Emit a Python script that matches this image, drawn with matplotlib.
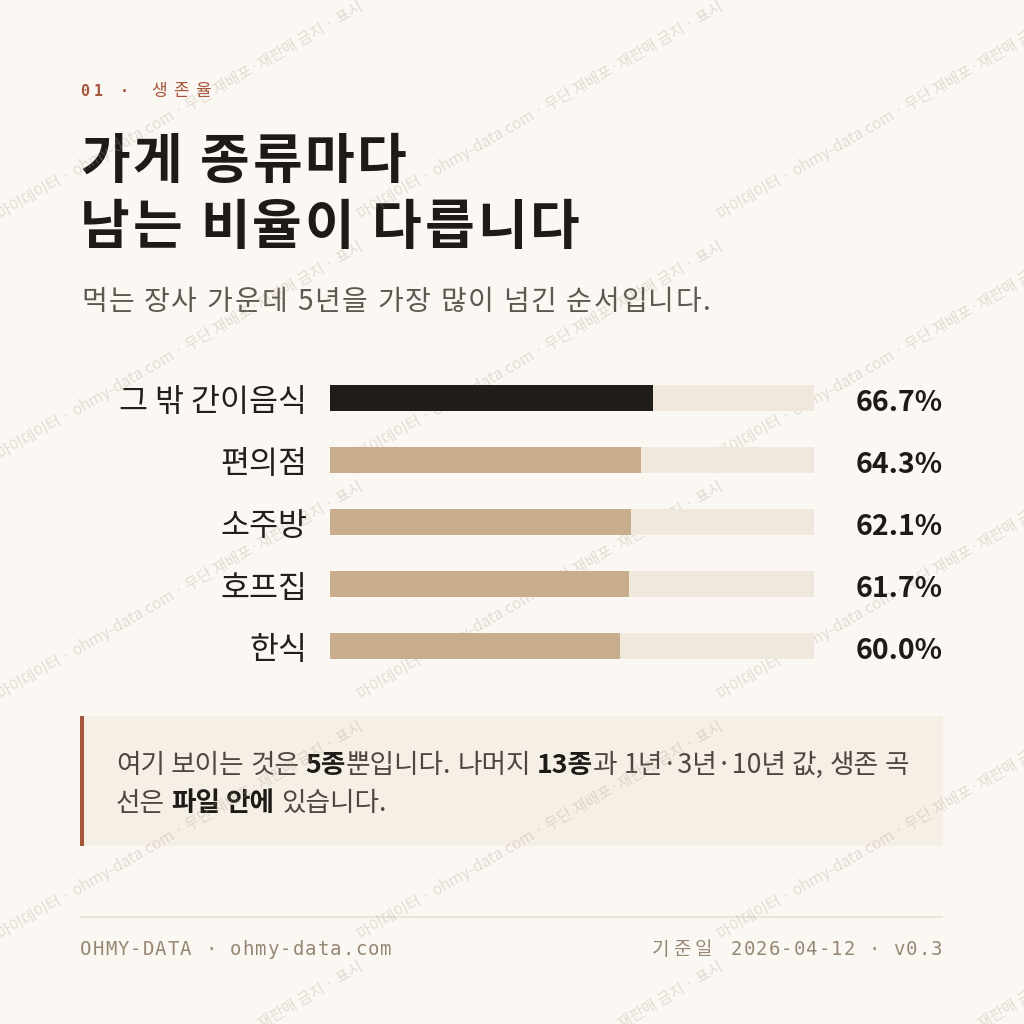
import re
import unicodedata
import matplotlib
matplotlib.use('Agg')
import matplotlib.pyplot as plt
from matplotlib.patches import Rectangle
from matplotlib.transforms import blended_transform_factory, ScaledTranslation

# ---------------- data ----------------
categories = ['그 밖 간이음식', '편의점', '소주방', '호프집', '한식']
survival_5y = [66.7, 64.3, 62.1, 61.7, 60.0]
highlight = [True, False, False, False, False]
value_labels = ['66.7%', '64.3%', '62.1%', '61.7%', '60.0%']

section_label = '01 · '
section_name = '생존율'
title_lines = ['가게 종류마다', '남는 비율이 다릅니다']
subtitle = '먹는 장사 가운데 5년을 가장 많이 넘긴 순서입니다.'
note_line1 = [('여기 보이는 것은 ', False), ('5종', True), ('뿐입니다. 나머지 ', False),
              ('13종', True), ('과 1년·3년·10년 값, 생존 곡', False)]
note_line2 = [('선은 ', False), ('파일 안에', True), (' 있습니다.', False)]
footer_left = 'OHMY-DATA · ohmy-data.com'
footer_right_kr = '기준일'
footer_right = '2026-04-12 · v0.3'
watermark = '마이데이터 · ohmy-data.com · 무단 재배포·재판매 금지 · 표시'

# ---------------- style ----------------
KR = 'Noto Sans CJK KR'
MONO = ['DejaVu Sans Mono', KR]
plt.rcParams['font.family'] = [KR, 'DejaVu Sans']

BG = '#FBF8F3'
INK = '#1E1A17'
RUST = '#A4553A'
GREY = '#5F5750'
FOOT = '#968775'
TRACK = '#F0E8DC'
TAN = '#C8AD8C'
DARK = '#201C19'
NOTE_BG = '#F6EFE6'

fig = plt.figure(figsize=(10.24, 10.24), dpi=100, facecolor=BG)
bg = fig.add_axes([0, 0, 1, 1])
bg.set_xlim(0, 1024)
bg.set_ylim(1024, 0)
bg.axis('off')
renderer = fig.canvas.get_renderer()


def px(p):
    return p * 72 / 100


def width_of(s, size, weight='normal', family=None):
    kw = {} if family is None else {'family': family}
    t = bg.text(0, 0, s, fontsize=px(size), fontweight=weight, **kw)
    w = t.get_window_extent(renderer).width
    t.remove()
    return w


def tracked(x, y, s, size, color, weight='normal', track=0.0, zorder=3):
    """Draw text char by char with extra letter spacing (tracking in px)."""
    ref = width_of('X', size, weight)
    for i, ch in enumerate(s):
        if ch == ' ':
            continue
        off = width_of(s[:i] + 'X', size, weight) - ref if i else 0.0
        bg.text(x + off + i * track, y, ch, fontsize=px(size), fontweight=weight,
                color=color, ha='left', va='baseline', zorder=zorder)


def spaced(x, y, s, size, color, weight='normal', adv=13.0, adv_wide=22.0):
    for ch in s:
        if ch != ' ':
            bg.text(x, y, ch, fontsize=px(size), color=color, fontweight=weight,
                    family=MONO, ha='left', va='baseline')
        x += adv_wide if unicodedata.east_asian_width(ch) in 'WF' else adv


# header
spaced(80, 96, section_label, 15, RUST, weight='bold', adv=13.2)
spaced(151, 96, section_name, 17, RUST, adv=21.5)

# title
tracked(80, 178, title_lines[0], 54, INK, weight='bold', track=2.8)
tracked(80, 244, title_lines[1], 54, INK, weight='bold', track=2.8)

# subtitle
tracked(81, 310, subtitle, 28, GREY, track=1.7)

# ---------------- bars ----------------
top, bottom = 367, 677
left, right = 330, 814
ax = fig.add_axes([left / 1024, 1 - bottom / 1024, (right - left) / 1024, (bottom - top) / 1024])
ax.set_xlim(0, 100)
ax.set_ylim(len(categories) - 0.5, -0.5)
ax.axis('off')
ypos = list(range(len(categories)))
ax.barh(ypos, [100] * len(categories), height=0.42, color=TRACK, zorder=1)
ax.barh(ypos, survival_5y, height=0.42,
        color=[DARK if h else TAN for h in highlight], zorder=2)
tr = blended_transform_factory(ax.transAxes, ax.transData)
lab_tr = tr + ScaledTranslation(0, -0.045, fig.dpi_scale_trans)
val_tr = tr + ScaledTranslation(0, -0.05, fig.dpi_scale_trans)
for i, (c, lab) in enumerate(zip(categories, value_labels)):
    ax.text((307 - left) / (right - left), i, c, transform=lab_tr, fontsize=px(31.5),
            color='#221E1B', ha='right', va='center', clip_on=False)
    ax.text((943 - left) / (right - left), i, lab, transform=val_tr, fontsize=px(28.5),
            fontweight='bold', color=INK, ha='right', va='center', clip_on=False)

# ---------------- note box ----------------
bg.add_patch(Rectangle((80, 716), 863, 130, facecolor=NOTE_BG, edgecolor='none', zorder=1))
bg.add_patch(Rectangle((80, 716), 4, 130, facecolor=RUST, edgecolor='none', zorder=2))


def runs_width(runs, size):
    total = 0
    for s, b in runs:
        weight = 'bold' if b else 'normal'
        sp = width_of('가 가', size, weight) - width_of('가가', size, weight)
        for tok in re.split(r'( )', s):
            if tok == ' ':
                total += sp
            elif tok:
                total += width_of(tok, size, weight)
    return total


def draw_runs(x, y, runs, size):
    for s, b in runs:
        weight = 'bold' if b else 'normal'
        color = INK if b else '#4E4741'
        sp = width_of('가 가', size, weight) - width_of('가가', size, weight)
        for tok in re.split(r'( )', s):
            if tok == ' ':
                x += sp
            elif tok:
                t = bg.text(x, y, tok, fontsize=px(size), fontweight=weight, color=color,
                            ha='left', va='baseline', zorder=3)
                x += t.get_window_extent(renderer).width


note_size = 25.5
w1 = runs_width(note_line1, note_size)
note_size = note_size * (912 - 116) / w1
draw_runs(116, 773, note_line1, note_size)
draw_runs(116, 811, note_line2, note_size)

# ---------------- footer ----------------
bg.plot([80, 943], [917, 917], color='#E8E1D6', lw=1.2, solid_capstyle='butt')
spaced(80, 955, footer_left, 19, FOOT, adv=12.5)
spaced(652, 955, footer_right_kr, 19, FOOT, adv=12.5, adv_wide=21.5)
spaced(731, 955, footer_right, 19, FOOT, adv=12.5)

# ---------------- watermark ----------------
for j in range(3):
    x0 = 360 * j
    for k in range(-1, 5):
        y0 = 220 + 240 * k
        t = bg.text(x0 + 1, y0, watermark, fontsize=px(15.5), color='#A89A8B', alpha=0.30,
                    rotation=30, rotation_mode='anchor', ha='left', va='baseline', zorder=10)
        t.set_clip_path(Rectangle((x0, y0 - 260), 360, 290, transform=bg.transData))

fig.savefig('out.png', dpi=100, facecolor=BG)
